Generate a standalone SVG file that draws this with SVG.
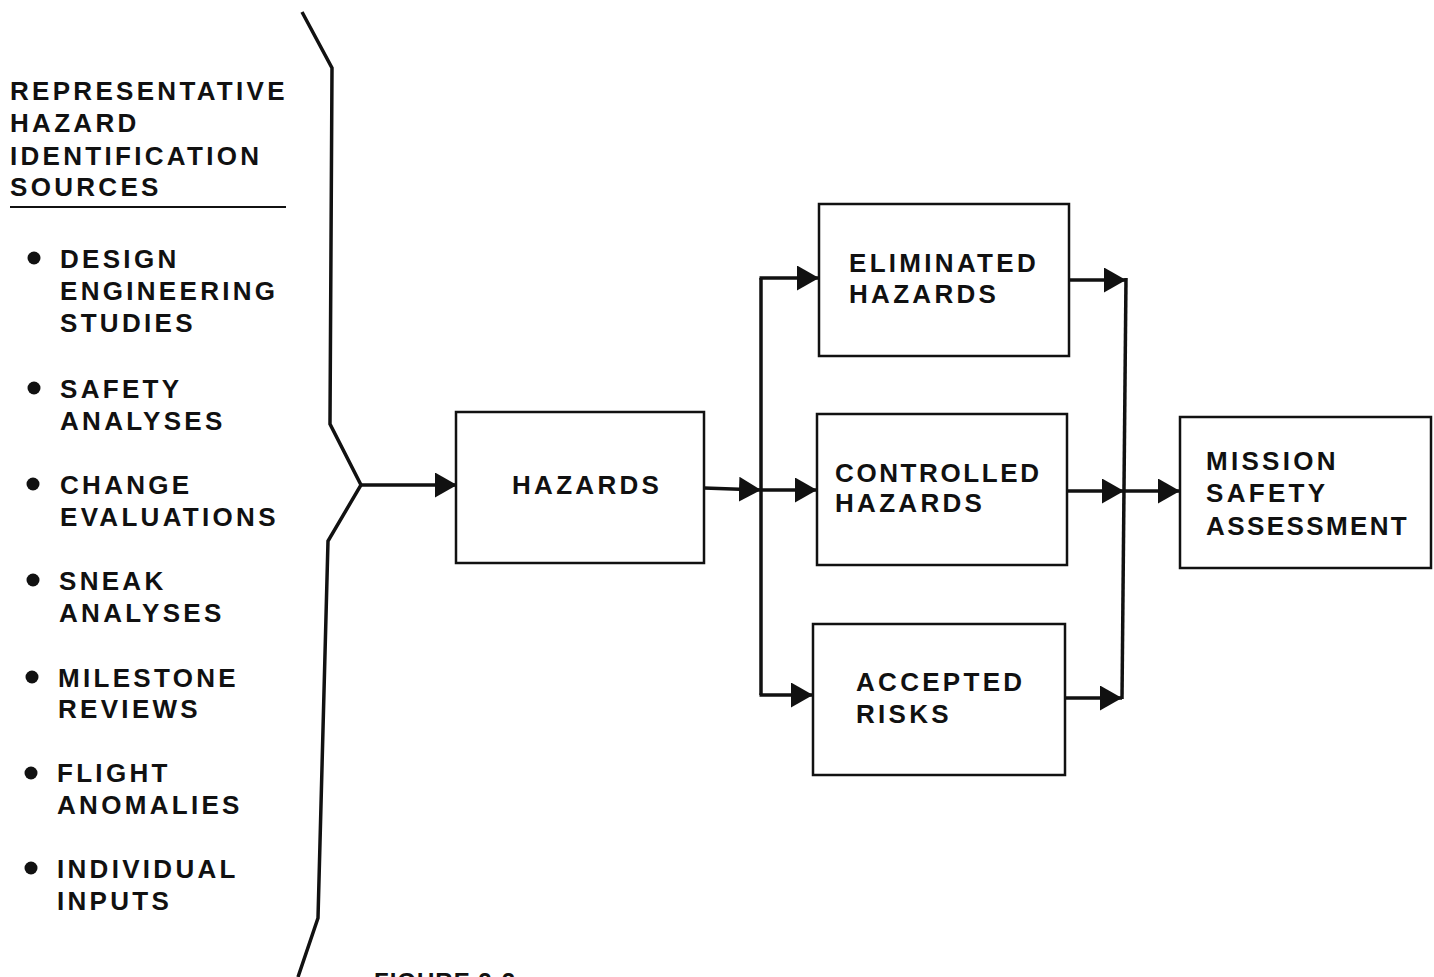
<svg xmlns="http://www.w3.org/2000/svg" width="1434" height="977" viewBox="0 0 1434 977">
<defs>
<style>
.t{font-family:"Liberation Sans",Arial,sans-serif;font-weight:bold;font-size:26px;letter-spacing:3.3px;fill:#111}
.box{fill:#fff;stroke:#111;stroke-width:2.5}
.ln{fill:none;stroke:#111;stroke-width:3.5}
</style>
<marker id="ah" markerUnits="userSpaceOnUse" markerWidth="23" markerHeight="25" refX="22" refY="12.5" orient="auto"><path d="M0,0 L22,12.5 L0,25 z" fill="#111"/></marker>
</defs>
<rect width="1434" height="977" fill="#fff"/>
<g id="sources">
<path class="ln" d="M302,12 L332,68 L330,424 L361,485 L328,541 L318,918 L298,977"/>
<text class="t" x="10" y="100">REPRESENTATIVE</text>
<text class="t" x="10" y="132">HAZARD</text>
<text class="t" x="10" y="165">IDENTIFICATION</text>
<text class="t" x="10" y="196">SOURCES</text>
<line x1="10" y1="207" x2="286" y2="207" stroke="#111" stroke-width="2"/>
<g fill="#111">
<circle cx="34" cy="258" r="6.5"/><circle cx="34" cy="388" r="6.5"/><circle cx="33" cy="484" r="6.5"/><circle cx="33" cy="580" r="6.5"/><circle cx="32" cy="677" r="6.5"/><circle cx="31" cy="773" r="6.5"/><circle cx="31" cy="868" r="6.5"/>
</g>
<text class="t" x="60" y="268">DESIGN</text>
<text class="t" x="60" y="300">ENGINEERING</text>
<text class="t" x="60" y="332">STUDIES</text>
<text class="t" x="60" y="398">SAFETY</text>
<text class="t" x="60" y="430">ANALYSES</text>
<text class="t" x="60" y="494">CHANGE</text>
<text class="t" x="60" y="526">EVALUATIONS</text>
<text class="t" x="59" y="590">SNEAK</text>
<text class="t" x="59" y="622">ANALYSES</text>
<text class="t" x="58" y="687">MILESTONE</text>
<text class="t" x="58" y="718">REVIEWS</text>
<text class="t" x="57" y="782">FLIGHT</text>
<text class="t" x="57" y="814">ANOMALIES</text>
<text class="t" x="57" y="878">INDIVIDUAL</text>
<text class="t" x="57" y="910">INPUTS</text>
</g>
<g id="connectors">
<line class="ln" x1="361" y1="485" x2="457" y2="485" marker-end="url(#ah)"/>
<line class="ln" x1="704" y1="488" x2="761" y2="490" marker-end="url(#ah)"/>
<line class="ln" x1="761" y1="278" x2="761" y2="695"/>
<line class="ln" x1="759.5" y1="278" x2="819" y2="278" marker-end="url(#ah)"/>
<line class="ln" x1="761" y1="490" x2="817" y2="490" marker-end="url(#ah)"/>
<line class="ln" x1="759.5" y1="695" x2="813" y2="695" marker-end="url(#ah)"/>
<line class="ln" x1="1069" y1="280" x2="1126" y2="280" marker-end="url(#ah)"/>
<line class="ln" x1="1067" y1="491" x2="1124" y2="491" marker-end="url(#ah)"/>
<line class="ln" x1="1065" y1="698" x2="1122" y2="698" marker-end="url(#ah)"/>
<line class="ln" x1="1126" y1="278" x2="1122" y2="699"/>
<line class="ln" x1="1124" y1="491" x2="1180" y2="491" marker-end="url(#ah)"/>
</g>
<g id="hazards">
<rect class="box" x="456" y="412" width="248" height="151"/>
<text class="t" x="512" y="494">HAZARDS</text>
</g>
<g id="eliminated">
<rect class="box" x="819" y="204" width="250" height="152"/>
<text class="t" x="849" y="272">ELIMINATED</text>
<text class="t" x="849" y="303">HAZARDS</text>
</g>
<g id="controlled">
<rect class="box" x="817" y="414" width="250" height="151"/>
<text class="t" x="835" y="482" style="letter-spacing:2.6px">CONTROLLED</text>
<text class="t" x="835" y="512">HAZARDS</text>
</g>
<g id="accepted">
<rect class="box" x="813" y="624" width="252" height="151"/>
<text class="t" x="856" y="691">ACCEPTED</text>
<text class="t" x="856" y="723">RISKS</text>
</g>
<g id="mission">
<rect class="box" x="1180" y="417" width="251" height="151"/>
<text class="t" x="1206" y="470">MISSION</text>
<text class="t" x="1206" y="502">SAFETY</text>
<text class="t" x="1206" y="535" style="letter-spacing:2.4px">ASSESSMENT</text>
</g>
<text class="t" x="374" y="990" style="font-size:24px;letter-spacing:1px">FIGURE 2-2</text>
</svg>
